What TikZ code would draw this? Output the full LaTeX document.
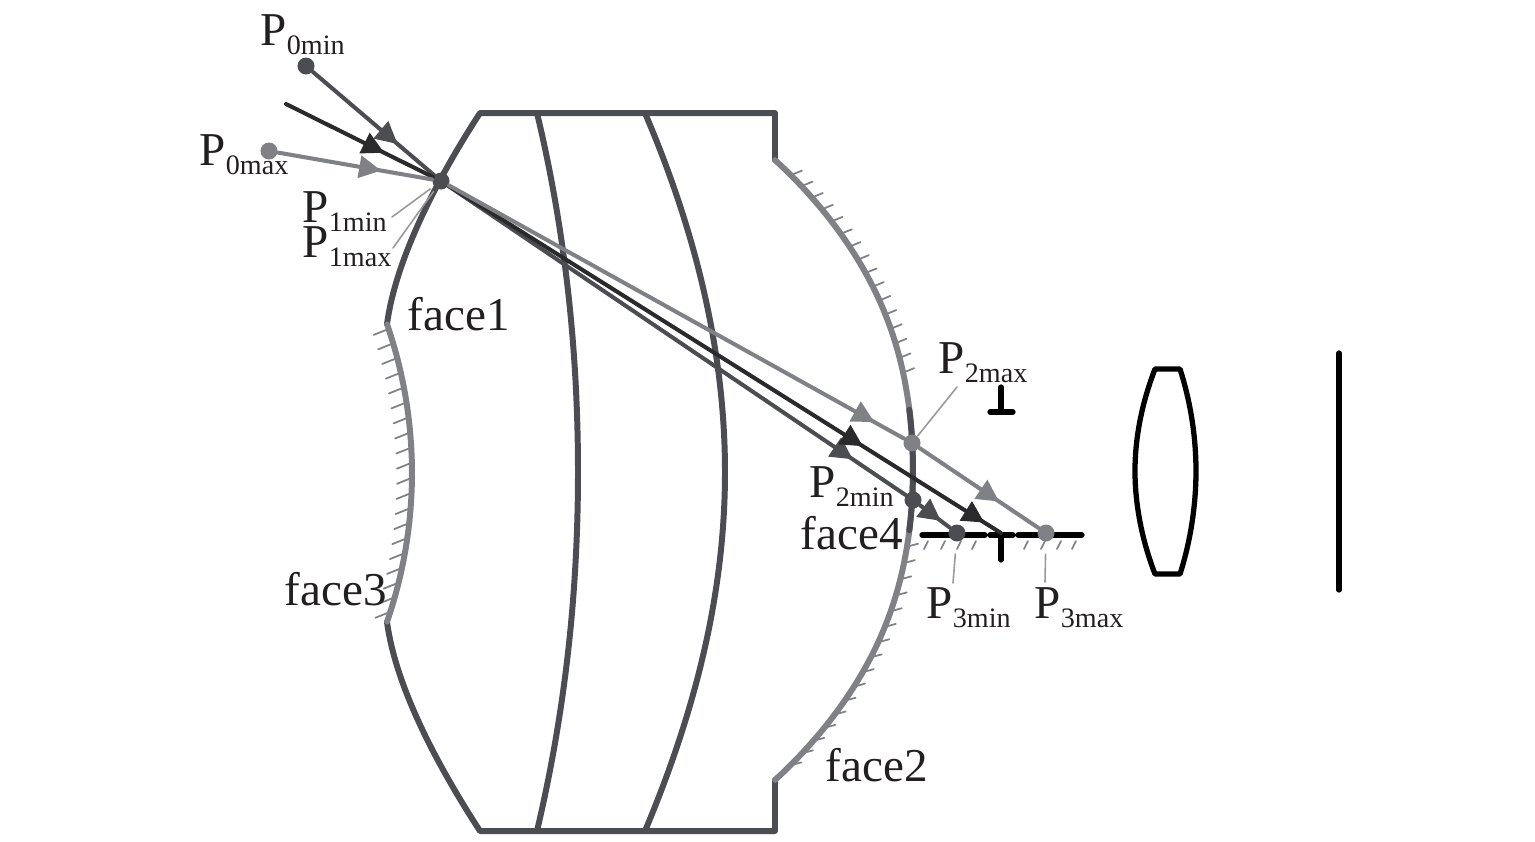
\documentclass[tikz,border=0pt]{standalone}
\usepackage{fontspec}
\setmainfont{Liberation Serif}
\usetikzlibrary{arrows.meta,decorations.markings}
\definecolor{bodygray}{HTML}{4C4D52}
\definecolor{facegray}{HTML}{808186}
\definecolor{raydark}{HTML}{2A2A2D}
\definecolor{inkblack}{HTML}{231F20}
\newcommand{\plab}[1]{P\raisebox{-.09cm}{\fontsize{8}{8}\selectfont #1}}
\tikzset{
	declare function={facex(\u)=496+417*cos(\u)+2.5*sin(4*\u)^2;},
	dot/.style={circle,fill=#1,inner sep=0pt,minimum size=.17cm},
	lab/.style={anchor=base west,inner sep=0pt,text=inkblack},
	body/.style={line width=1.7pt,color=bodygray},
	facearc/.style={line width=1.7pt,color=facegray},
	hatch/.style={line width=.5pt,color=facegray},
	ray/.style={line width=1.15pt,color=#1},
	leader/.style={line width=.45pt,color=gray!80},
	stopline/.style={line width=1.5pt,color=black},
	tip/.style={postaction={decorate,decoration={markings,mark=at position #1 with {\arrow{>}}}}}
}
\begin{document}
\begin{tikzpicture}[x=.01cm, y=-.01cm, font=\fontsize{13.4}{13.4}\selectfont, line join=round, line cap=round, >={Triangle[length=2.2mm,width=2.2mm]}]
	\useasboundingbox (0,0) rectangle (1535,841);
	\foreach \ang in {-45,-42.9,...,-12}\draw[hatch] ({facex(\ang)},{470+417*sin(\ang)})--++(11,-4.5);
	\foreach \ang in {10.6,12.9,...,45.5}\draw[hatch] ({facex(\ang)},{470+417*sin(\ang)})--++(11,-3);
	\foreach \ang in {-18.4,-16.5,...,18.8}\draw[hatch] ({-44.5+456.5*cos(\ang)},{473+456.5*sin(\ang)})--++(-15,6);
	\foreach \x in {925,942,958,973,1025,1042,1058,1073}\draw[hatch] (\x+3,541)--(\x-1,549);
	\draw[body] (387,324) .. controls (395,265) and (430,190) .. (480,113)--(775,113)--(775,160);
	\draw[body] (387,622) .. controls (395,681) and (430,754) .. (480,831)--(775,831)--(775,780);
	\draw[body] (537,113) .. controls (565,230) and (578,350) .. (578,472) .. controls (578,594) and (565,712) .. (537,831);
	\draw[body] (645,113) .. controls (695,230) and (725,350) .. (725,472) .. controls (725,594) and (695,712) .. (645,831);
	\draw[facearc,variable=\ang,domain=-48:48,samples=80] plot ({facex(\ang)},{470+417*sin(\ang)});
	\draw[body,variable=\ang,domain=-8.3:8.3,samples=12] plot ({facex(\ang)},{470+417*sin(\ang)});
	\draw[facearc,variable=\ang,domain=-19:19,samples=30] plot ({-44.5+456.5*cos(\ang)},{473+456.5*sin(\ang)});
	\draw[stopline] (1001,387)--(1001,412) (990,412)--(1013,412);
	\draw[stopline] (1001,535)--(1001,560);
	\draw[stopline] (922,535)--(985,535) (990,535)--(1013,535) (1018,535)--(1082,535);
	\draw[stopline] (1155,369)--(1180,369) .. controls (1190,400) and (1196,435) .. (1196,471) .. controls (1196,507) and (1190,543) .. (1180,574)--(1155,574) .. controls (1143,543) and (1135,507) .. (1135,471) .. controls (1135,435) and (1143,400) .. (1155,369)--cycle;
	\draw[stopline] (1339,353)--(1339,590);
	\node[dot=bodygray] (p0min) at (306,66) {};
	\node[dot=facegray] (p0max) at (269,151) {};
	\node[dot=bodygray] (p1) at (441,181) {};
	\node[dot=facegray] (p2max) at (912,443) {};
	\node[dot=bodygray] (p2min) at (913,500) {};
	\node[dot=bodygray] (p3min) at (957,533) {};
	\node[dot=facegray] (p3max) at (1046,533) {};
	\coordinate (rayfree) at (286,104);
	\coordinate (raystop) at (1001,533);
	\coordinate (end1min) at (392,217);
	\coordinate (end1max) at (393,248);
	\coordinate (end2max) at (957,387);
	\coordinate (end3min) at (953,583);
	\coordinate (end3max) at (1045,582);
	\draw[ray=bodygray,tip=.7] (p0min)--(p1);
	\draw[ray=raydark,tip=.67] (rayfree)--(p1);
	\draw[ray=facegray,tip=.67] (p0max)--(p1);
	\draw[ray=bodygray,tip=.885] (p1)--(p2min);
	\draw[ray=raydark,tip=.75,tip=.97] (p1)--(raystop);
	\draw[ray=facegray,tip=.935] (p1)--(p2max);
	\draw[ray=facegray,tip=.67] (p2max)--(p3max);
	\draw[ray=bodygray,tip=.7] (p2min)--(p3min);
	\draw[leader,shorten <=.04cm] (p1)--(end1min);
	\draw[leader,shorten <=.04cm] (p1)--(end1max);
	\draw[leader] (p2max)--(end2max);
	\draw[leader,shorten <=.12cm] (p3min)--(end3min);
	\draw[leader,shorten <=.12cm] (p3max)--(end3max);
	\node[lab] (lab0min) at (260,45) {\plab{0min}};
	\node[lab] (lab0max) at (199,165) {\plab{0max}};
	\node[lab] (lab1min) at (302,222) {\plab{1min}};
	\node[lab] (lab1max) at (302,257) {\plab{1max}};
	\node[lab] (lab2max) at (938,373) {\plab{2max}};
	\node[lab] (lab2min) at (809,497) {\plab{2min}};
	\node[lab] (lab3min) at (926,618) {\plab{3min}};
	\node[lab] (lab3max) at (1034,618) {\plab{3max}};
	\node[lab] (face1) at (407,330) {face1};
	\node[lab] (face2) at (825,781) {face2};
	\node[lab] (face3) at (284,605) {face3};
	\node[lab] (face4) at (800,549) {face4};
\end{tikzpicture}
\end{document}
